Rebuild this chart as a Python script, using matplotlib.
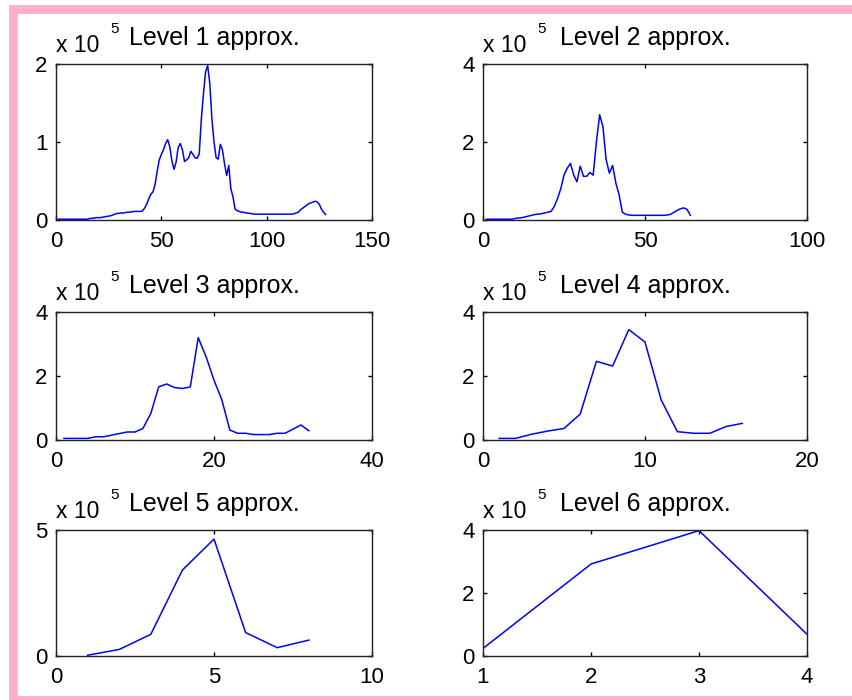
# ----------- Wavelet approximation levels -----------
import matplotlib
matplotlib.use('Agg')
import matplotlib.pyplot as plt
from matplotlib.patches import Rectangle
import numpy as np

# ----------- Data (values x 10^5) -----------
level1 = [0.01, 0.01, 0.01, 0.01, 0.01, 0.01, 0.01, 0.01, 0.01, 0.01,
          0.01, 0.01, 0.01, 0.01, 0.01, 0.02, 0.02, 0.025, 0.03, 0.03,
          0.03, 0.035, 0.04, 0.045, 0.05, 0.055, 0.065, 0.075, 0.085, 0.085,
          0.09, 0.09, 0.095, 0.1, 0.1, 0.105, 0.11, 0.11, 0.11, 0.11,
          0.115, 0.15, 0.2, 0.27, 0.33, 0.36, 0.45, 0.62, 0.77, 0.84,
          0.9, 0.98, 1.03, 0.94, 0.76, 0.65, 0.74, 0.93, 0.98, 0.9,
          0.75, 0.77, 0.8, 0.88, 0.84, 0.8, 0.79, 0.85, 1.3, 1.62,
          1.9, 1.98, 1.75, 1.3, 1.0, 0.8, 0.78, 0.97, 0.9, 0.72,
          0.57, 0.7, 0.4, 0.3, 0.14, 0.12, 0.11, 0.1, 0.1, 0.09,
          0.09, 0.085, 0.08, 0.075, 0.075, 0.075, 0.075, 0.075, 0.075, 0.075,
          0.075, 0.075, 0.075, 0.075, 0.075, 0.075, 0.075, 0.075, 0.075, 0.075,
          0.075, 0.075, 0.08, 0.09, 0.1, 0.13, 0.15, 0.17, 0.19, 0.21,
          0.22, 0.23, 0.24, 0.23, 0.2, 0.14, 0.1, 0.07]
level2 = [0.02, 0.02, 0.02, 0.02, 0.02, 0.02, 0.02, 0.02, 0.02, 0.04,
          0.05, 0.06, 0.08, 0.1, 0.12, 0.14, 0.15, 0.16, 0.18, 0.2,
          0.22, 0.35, 0.55, 0.8, 1.15, 1.33, 1.45, 1.15, 0.98, 1.38,
          1.12, 1.12, 1.22, 1.15, 2.0, 2.7, 2.4, 1.55, 1.2, 1.4,
          0.95, 0.65, 0.2, 0.15, 0.13, 0.12, 0.12, 0.12, 0.12, 0.12,
          0.12, 0.12, 0.12, 0.12, 0.12, 0.12, 0.13, 0.15, 0.2, 0.25,
          0.29, 0.31, 0.27, 0.12]
level3 = [0.05, 0.05, 0.05, 0.05, 0.1, 0.1, 0.15, 0.2, 0.25, 0.25,
          0.36, 0.83, 1.66, 1.75, 1.64, 1.61, 1.66, 3.2, 2.6, 1.87,
          1.25, 0.31, 0.21, 0.21, 0.17, 0.17, 0.17, 0.21, 0.21, 0.34,
          0.47, 0.29]
level4 = [0.05, 0.05, 0.18, 0.28, 0.36, 0.81, 2.46, 2.31, 3.45, 3.06,
          1.25, 0.26, 0.21, 0.21, 0.42, 0.52]
level5 = [0.03, 0.26, 0.86, 3.41, 4.64, 0.93, 0.33, 0.63]
level6 = [0.24, 2.92, 3.98, 0.69]

levels = [level1, level2, level3, level4, level5, level6]
titles = ['Level 1 approx.', 'Level 2 approx.', 'Level 3 approx.',
          'Level 4 approx.', 'Level 5 approx.', 'Level 6 approx.']
x_limits = [(0, 150), (0, 100), (0, 40), (0, 20), (0, 10), (1, 4)]
x_ticks = [[0, 50, 100, 150], [0, 50, 100], [0, 20, 40], [0, 10, 20],
           [0, 5, 10], [1, 2, 3, 4]]
y_limits = [(0, 2), (0, 4), (0, 4), (0, 4), (0, 5), (0, 4)]
y_ticks = [[0, 1, 2], [0, 2, 4], [0, 2, 4], [0, 2, 4], [0, 5], [0, 2, 4]]

# ----------- Layout (pixels) -----------
W, H = 852, 700
col_x = [(56, 372), (483, 807)]
row_y = [(64, 220), (312, 440), (530, 656)]
PINK = '#ffb0c8'

plt.rcParams['font.family'] = ['Liberation Sans', 'DejaVu Sans']


def px_box(x0, x1, y0, y1):
    return [x0 / W, 1 - y1 / H, (x1 - x0) / W, (y1 - y0) / H]


fig = plt.figure(figsize=(W / 100, H / 100), dpi=100)
fig.patch.set_facecolor('white')

# pink frame, cut by the right and bottom edge of the picture
frame = Rectangle((12.5 / W, 1 - 699.5 / H), (860 - 12.5) / W, (699.5 - 9) / H,
                  transform=fig.transFigure, fill=False, edgecolor=PINK,
                  linewidth=6.4, clip_on=False)
fig.patches.append(frame)

for i, values in enumerate(levels):
    r, c = divmod(i, 2)
    ax = fig.add_axes(px_box(col_x[c][0], col_x[c][1], row_y[r][0], row_y[r][1]))
    xs = np.arange(1, len(values) + 1)
    ax.plot(xs, np.array(values), color='#0000ff', linewidth=1.1)

    ax.set_xlim(*x_limits[i])
    ax.set_ylim(*y_limits[i])
    ax.set_xticks(x_ticks[i])
    ax.set_yticks(y_ticks[i])
    ax.tick_params(direction='in', length=3, width=1, top=True, right=True,
                   labelsize=16, colors='black')
    ax.tick_params(axis='x', pad=8)
    ax.tick_params(axis='y', pad=6)
    for sp in ax.spines.values():
        sp.set_linewidth(1.0)
        sp.set_color('#222222')

    ax.set_title(titles[i], fontsize=18, pad=13.5)
    # MATLAB style exponent label
    ax.annotate('x 10', xy=(0, 1), xycoords='axes fraction', xytext=(0, 8.5),
                textcoords='offset points', ha='left', va='baseline', fontsize=16.5)
    ax.annotate('5', xy=(0, 1), xycoords='axes fraction', xytext=(39, 22),
                textcoords='offset points', ha='left', va='baseline', fontsize=11)

fig.savefig('out.png', dpi=100, facecolor='white')
